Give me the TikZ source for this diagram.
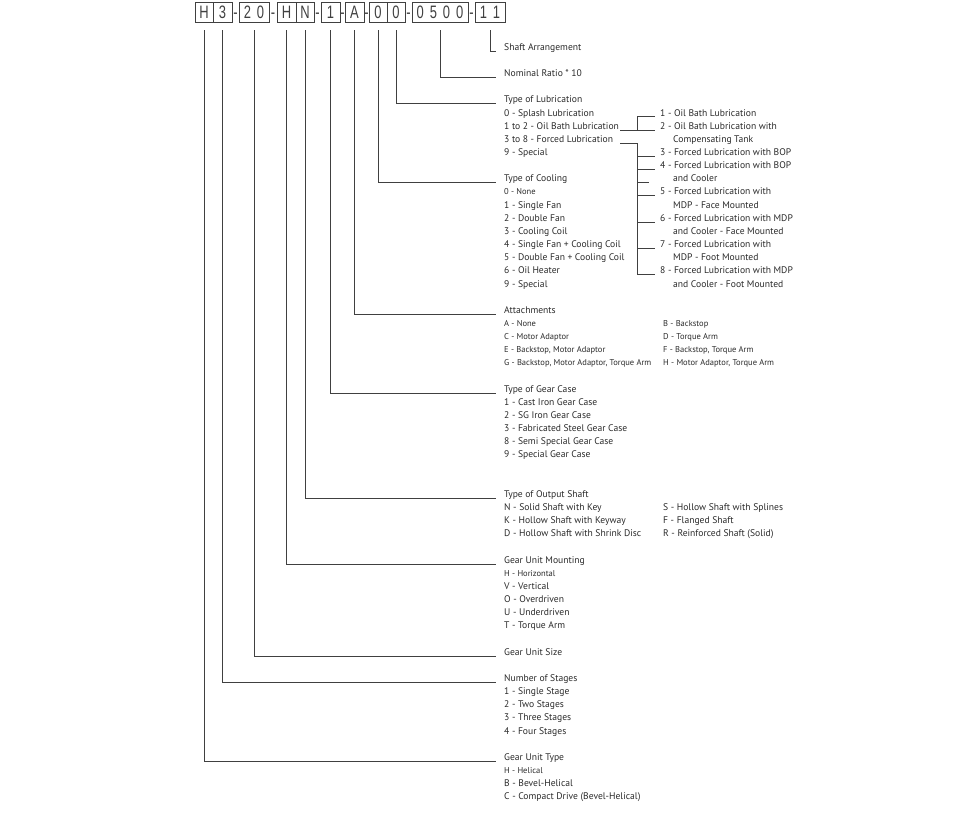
\documentclass[tikz,border=0pt]{standalone}
\usepackage{fontspec}
\setmainfont{PT Sans}
\newfontfamily\codefont[FakeStretch=0.72]{Liberation Sans}
\definecolor{txt}{HTML}{2A2A2A}
\definecolor{lnc}{HTML}{404040}
\definecolor{codec}{HTML}{404040}
\newcommand\fs{\fontsize{9.6}{11}\selectfont}
\newcommand\fss{\fontsize{8.5}{10}\selectfont}
\newcommand\By[1]{50.3+13.15*#1}
\newcommand\Ly[1]{51.1+13.15*#1}
\tikzset{
  lbl/.style={anchor=base west, inner sep=0pt, font=\fs, text=txt},
  sml/.style={lbl, font=\fss},
  ln/.style={draw=lnc, line width=0.75pt},
  cbox/.style={draw=codec, line width=0.8pt, inner sep=0pt, minimum height=20pt,
    text height=13pt, text depth=1pt, text=codec, font=\codefont\fontsize{18}{18}\selectfont},
  hyph/.style={inner sep=0pt, anchor=base, text=codec, font=\codefont\fontsize{18}{18}\selectfont}
}
\begin{document}
\begin{tikzpicture}[x=1pt,y=-1pt]
\useasboundingbox (0,0) rectangle (960,813);
% ---- code boxes
\node[cbox, minimum width=18pt] (bH) at (204,12.7) {H};
\node[cbox, minimum width=19pt] (bS) at (222.5,12.7) {3};
\node[cbox, minimum width=30pt] (bZ) at (254,12.7) {2\hspace{6pt}0};
\node[cbox, minimum width=19pt] (bM) at (286.5,12.7) {H};
\node[cbox, minimum width=18pt] (bO) at (305,12.7) {N};
\node[cbox, minimum width=19pt] (bC) at (330.5,12.7) {1};
\node[cbox, minimum width=19pt] (bA) at (354.5,12.7) {A};
\node[cbox, minimum width=18pt] (bK) at (378,12.7) {0};
\node[cbox, minimum width=18pt] (bL) at (396,12.7) {0};
\node[cbox, minimum width=56pt] (bR) at (440,12.7) {0\hspace{6pt}5\hspace{6pt}0\hspace{6pt}0};
\node[cbox, minimum width=30pt] (bX) at (490,12.7) {1\hspace{6pt}1};
\foreach \x/\n in {235.5/h1,273/h2,317.5/h3,342.5/h4,366.5/h5,408.5/h6,471.5/h7}
  \node[hyph] (\n) at (\x,18.7) {-};
% ---- left column titles and items
\node[lbl] (tSA) at (504,{\By{0}}) {Shaft Arrangement};
\node[lbl] (tNR) at (504,{\By{2}}) {Nominal Ratio * 10};
\node[lbl] (tLub) at (504,{\By{4}}) {Type of Lubrication};
\node[lbl] (l0) at (504,{\By{5}}) {0 - Splash Lubrication};
\node[lbl] (l12) at (504,{\By{6}}) {1 to 2 - Oil Bath Lubrication};
\node[lbl] (l38) at (504,{\By{7}}) {3 to 8 - Forced Lubrication};
\node[lbl] (l9) at (504,{\By{8}}) {9 - Special};
\node[lbl] (tCool) at (504,{\By{10}}) {Type of Cooling};
\node[sml] (c0) at (504,{\By{11}}) {0 - None};
\node[lbl] (c1) at (504,{\By{12}}) {1 - Single Fan};
\node[lbl] (c2) at (504,{\By{13}}) {2 - Double Fan};
\node[lbl] (c3) at (504,{\By{14}}) {3 - Cooling Coil};
\node[lbl] (c4) at (504,{\By{15}}) {4 - Single Fan + Cooling Coil};
\node[lbl] (c5) at (504,{\By{16}}) {5 - Double Fan + Cooling Coil};
\node[lbl] (c6) at (504,{\By{17}}) {6 - Oil Heater};
\node[lbl] (c9) at (504,{\By{18}}) {9 - Special};
\node[lbl] (tAtt) at (504,{\By{20}}) {Attachments};
\node[sml] (aA) at (504,{\By{21}}) {A - None};
\node[sml] (aC) at (504,{\By{22}}) {C - Motor Adaptor};
\node[sml] (aE) at (504,{\By{23}}) {E - Backstop, Motor Adaptor};
\node[sml] (aG) at (504,{\By{24}}) {G - Backstop, Motor Adaptor, Torque Arm};
\node[sml] (aB) at (663,{\By{21}}) {B - Backstop};
\node[sml] (aD) at (663,{\By{22}}) {D - Torque Arm};
\node[sml] (aF) at (663,{\By{23}}) {F - Backstop, Torque Arm};
\node[sml] (aH) at (663,{\By{24}}) {H - Motor Adaptor, Torque Arm};
\node[lbl] (tCase) at (504,{\By{26}}) {Type of Gear Case};
\node[lbl] (g1) at (504,{\By{27}}) {1 - Cast Iron Gear Case};
\node[lbl] (g2) at (504,{\By{28}}) {2 - SG Iron Gear Case};
\node[lbl] (g3) at (504,{\By{29}}) {3 - Fabricated Steel Gear Case};
\node[lbl] (g8) at (504,{\By{30}}) {8 - Semi Special Gear Case};
\node[lbl] (g9) at (504,{\By{31}}) {9 - Special Gear Case};
\node[lbl] (tOut) at (504,{\By{34}}) {Type of Output Shaft};
\node[lbl] (oN) at (504,{\By{35}}) {N - Solid Shaft with Key};
\node[lbl] (oK) at (504,{\By{36}}) {K - Hollow Shaft with Keyway};
\node[lbl] (oD) at (504,{\By{37}}) {D - Hollow Shaft with Shrink Disc};
\node[lbl] (oS) at (663,{\By{35}}) {S - Hollow Shaft with Splines};
\node[lbl] (oF) at (663,{\By{36}}) {F - Flanged Shaft};
\node[lbl] (oR) at (663,{\By{37}}) {R - Reinforced Shaft (Solid)};
\node[lbl] (tMount) at (504,{\By{39}}) {Gear Unit Mounting};
\node[sml] (mH) at (504,{\By{40}}) {H - Horizontal};
\node[lbl] (mV) at (504,{\By{41}}) {V - Vertical};
\node[lbl] (mO) at (504,{\By{42}}) {O - Overdriven};
\node[lbl] (mU) at (504,{\By{43}}) {U - Underdriven};
\node[lbl] (mT) at (504,{\By{44}}) {T - Torque Arm};
\node[lbl] (tSize) at (504,{\By{46}}) {Gear Unit Size};
\node[lbl] (tStage) at (504,{\By{48}}) {Number of Stages};
\node[lbl] (s1) at (504,{\By{49}}) {1 - Single Stage};
\node[lbl] (s2) at (504,{\By{50}}) {2 - Two Stages};
\node[lbl] (s3) at (504,{\By{51}}) {3 - Three Stages};
\node[lbl] (s4) at (504,{\By{52}}) {4 - Four Stages};
\node[lbl] (tType) at (504,{\By{54}}) {Gear Unit Type};
\node[sml] (yH) at (504,{\By{55}}) {H - Helical};
\node[lbl] (yB) at (504,{\By{56}}) {B - Bevel-Helical};
\node[lbl] (yC) at (504,{\By{57}}) {C - Compact Drive (Bevel-Helical)};
% ---- lubrication sub-options
\node[lbl] (r1) at (660,{\By{5}}) {1 - Oil Bath Lubrication};
\node[lbl] (r2) at (660,{\By{6}}) {2 - Oil Bath Lubrication with};
\node[lbl] (r2b) at (673,{\By{7}}) {Compensating Tank};
\node[lbl] (r3) at (660,{\By{8}}) {3 - Forced Lubrication with BOP};
\node[lbl] (r4) at (660,{\By{9}}) {4 - Forced Lubrication with BOP};
\node[lbl] (r4b) at (673,{\By{10}}) {and Cooler};
\node[lbl] (r5) at (660,{\By{11}}) {5 - Forced Lubrication with};
\node[lbl] (r5b) at (673,{\By{12}}) {MDP - Face Mounted};
\node[lbl] (r6) at (660,{\By{13}}) {6 - Forced Lubrication with MDP};
\node[lbl] (r6b) at (673,{\By{14}}) {and Cooler - Face Mounted};
\node[lbl] (r7) at (660,{\By{15}}) {7 - Forced Lubrication with};
\node[lbl] (r7b) at (673,{\By{16}}) {MDP - Foot Mounted};
\node[lbl] (r8) at (660,{\By{17}}) {8 - Forced Lubrication with MDP};
\node[lbl] (r8b) at (673,{\By{18}}) {and Cooler - Foot Mounted};
% ---- main connectors
\foreach \b/\t in {bX/tSA,bR/tNR,bL/tLub,bK/tCool,bA/tAtt,bC/tCase,bO/tOut,bM/tMount,bZ/tSize,bS/tStage,bH/tType}
  \draw[ln] ([yshift=-7pt]\b.south) |- ([xshift=-8pt,yshift=-0.8pt]\t.base west);
% ---- lubrication tree
\draw[ln] ([xshift=-5pt,yshift=-0.8pt]r1.base west) -- (637,{\Ly{5}}) -- (637,{\Ly{6}});
\draw[ln] (620,{\Ly{6}}) -- ([xshift=-5pt,yshift=-0.8pt]r2.base west);
\draw[ln] (620,{\Ly{7}}) -- (637,{\Ly{7}}) -- (637,{\Ly{17}}) -- ([xshift=-5pt,yshift=-0.8pt]r8.base west);
\foreach \n/\k in {r3/8,r4/9,r5/11,r6/13,r7/15}
  \draw[ln] (637,{\Ly{\k}}) -- ([xshift=-5pt,yshift=-0.8pt]\n.base west);
\draw[ln] (637,{\Ly{10}}) -- (649,{\Ly{10}});
\end{tikzpicture}
\end{document}
